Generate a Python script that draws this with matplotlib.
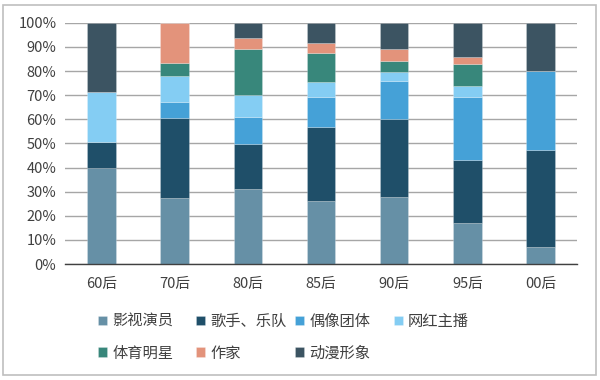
import matplotlib.pyplot as plt
from matplotlib.patches import Rectangle
from matplotlib.ticker import PercentFormatter
import numpy as np

plt.rcParams['font.family'] = ['Noto Sans CJK SC', 'DejaVu Sans']

categories = ['60后', '70后', '80后', '85后', '90后', '95后', '00后']
series_names = ['影视演员', '歌手、乐队', '偶像团体', '网红主播', '体育明星', '作家', '动漫形象']

# shares in percent, one list per series (categories in order)
actors = [40.0, 27.2, 31.3, 26.3, 27.8, 17.0, 6.9]
singers = [10.8, 33.2, 18.5, 30.5, 32.2, 26.2, 40.3]
idols = [0.0, 6.7, 11.2, 12.4, 15.9, 26.1, 32.9]
influencers = [20.4, 10.8, 9.1, 6.2, 3.6, 4.6, 0.0]
athletes = [0.0, 5.6, 19.1, 12.2, 4.6, 9.2, 0.0]
writers = [0.0, 16.5, 4.4, 4.0, 5.0, 2.9, 0.0]
anime = [28.8, 0.0, 6.4, 8.4, 10.9, 14.0, 19.9]

series = [actors, singers, idols, influencers, athletes, writers, anime]
colors = ['#6690a6', '#1f4f69', '#45a1d7', '#84cdf3', '#38877b', '#e3937b', '#3c5462']

fig = plt.figure(figsize=(6, 3.8), dpi=100)
ax = fig.add_axes([0.108, 0.305, 0.854, 0.635])

x = np.arange(len(categories))
bottom = np.zeros(len(categories))
handles = []
for name, vals, c in zip(series_names, series, colors):
    vals = np.array(vals) / 100
    b = ax.bar(x, vals, 0.39, bottom=bottom, color=c, label=name, zorder=2,
               edgecolor=(1, 1, 1, 0.25), linewidth=0.6)
    handles.append(b)
    bottom += vals

ax.set_xlim(-0.5, 6.5)
ax.set_ylim(0, 1)
ax.set_yticks(np.arange(0, 1.01, 0.1))
ax.yaxis.set_major_formatter(PercentFormatter(1.0, decimals=0))
ax.set_xticks(x)
ax.set_xticklabels(categories)
ax.tick_params(length=0, labelsize=10.5, colors='#404040', pad=6)
ax.tick_params(axis='x', pad=9)
ax.grid(axis='y', color='#a6a6a6', linewidth=1, zorder=0)
for s in ['top', 'right', 'left']:
    ax.spines[s].set_visible(False)
ax.spines['bottom'].set_color('#404040')
ax.spines['bottom'].set_linewidth(1)
ax.spines['bottom'].set_zorder(3)

# legend: four columns of equal width, placed one by one
col_x = [0.163, 0.326, 0.492, 0.656]
for i, cx in enumerate(col_x):
    idx = [j for j in (i, i + 4) if j < len(handles)]
    leg = fig.legend([handles[j] for j in idx], [series_names[j] for j in idx],
                     loc='upper left', bbox_to_anchor=(cx, 0.177),
                     frameon=False, fontsize=11, handlelength=0.6, handleheight=0.6,
                     handletextpad=0.35, labelspacing=0.97, borderaxespad=0,
                     borderpad=0)
    for t in leg.get_texts():
        t.set_color('#404040')

fig.patches.append(Rectangle((0.005, 0.013), 0.988, 0.975, transform=fig.transFigure,
                             fill=False, edgecolor='#bfbfbf', linewidth=1.2))

fig.savefig('out.png', dpi=100)
